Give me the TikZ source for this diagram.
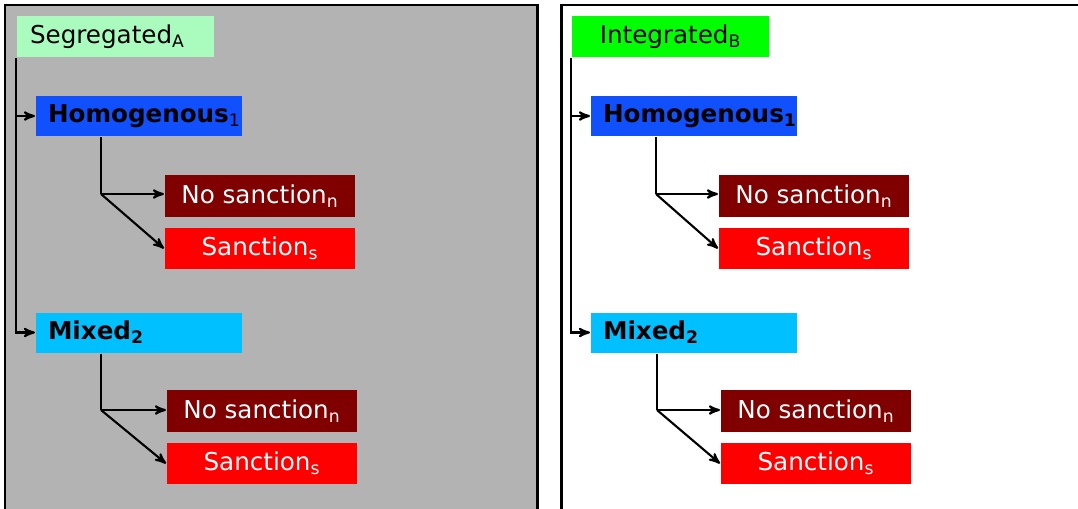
\documentclass[tikz,border=0pt]{standalone}
\usepackage{fontspec}
\setmainfont{DejaVu Sans}
\usetikzlibrary{arrows}
\definecolor{panelgray}{RGB}{179,179,179}
\definecolor{seggreen}{RGB}{170,252,190}
\definecolor{intgreen}{RGB}{0,255,0}
\definecolor{homblue}{RGB}{16,80,255}
\definecolor{mixcyan}{RGB}{0,192,255}
\definecolor{nored}{RGB}{128,0,0}
\definecolor{sanred}{RGB}{255,0,0}

\begin{document}
\begin{tikzpicture}[x=0.02cm,y=-0.02cm,>=stealth',line width=1.2pt,
                tag/.style={inner sep=0pt,font=\fontsize{14}{16}\selectfont},
                group/.style={tag,minimum width=3.94cm,minimum height=0.82cm},
                level/.style={tag,minimum width=4.12cm,minimum height=0.8cm,text width=3.64cm,align=left,font=\fontsize{14}{16}\selectfont\bfseries},
                outcome/.style={tag,minimum width=3.8cm,minimum height=0.83cm,text=white}]
                \useasboundingbox (0,0) rectangle (1078,508);
                \fill[white] (0,0) rectangle (1078,508);
                \draw[line width=1.7pt,fill=panelgray] (5,5) rectangle (537,530);
                \draw[line width=1.7pt] (561,5) rectangle (1100,530);
                \node[group,fill=seggreen,text width=3.42cm,align=left](SegA)at(115.5, 36.5){Segregated\textsubscript{A}};
                \node[level,fill=homblue](Hom1A)at(139, 116){Homogenous\textsubscript{\normalfont 1}};
                \node[outcome,fill=nored](NoHomA)at(260, 196){No sanction\textsubscript{n}};
                \node[outcome,fill=sanred](SanHomA)at(260, 248.5){Sanction\textsubscript{s}};
                \node[level,fill=mixcyan](Mix2A)at(139, 332.5){Mixed\textsubscript{2}};
                \node[outcome,fill=nored](NoMixA)at(262, 411){No sanction\textsubscript{n}};
                \node[outcome,fill=sanred](SanMixA)at(262, 463.5){Sanction\textsubscript{s}};
                \coordinate(ForkHomA)at(101, 194);
                \coordinate(ForkMixA)at(101, 410);
                \draw[->](SegA.south west) |- (Mix2A.west);
                \draw[->](SegA.south west |- Hom1A.west) -- (Hom1A.west);
                \draw(Hom1A.south -| ForkHomA) -- (ForkHomA);
                \draw[->](ForkHomA) -- (NoHomA.west |- ForkHomA);
                \draw[->](ForkHomA) -- (SanHomA.west);
                \draw(Mix2A.south -| ForkMixA) -- (ForkMixA);
                \draw[->](ForkMixA) -- (NoMixA.west |- ForkMixA);
                \draw[->](ForkMixA) -- (SanMixA.west);
                \node[group,fill=intgreen](IntB)at(670.5, 36.5){Integrated\textsubscript{B}};
                \node[level,fill=homblue](Hom1B)at(694, 116){Homogenous\textsubscript{1}};
                \node[outcome,fill=nored](NoHomB)at(814, 196){No sanction\textsubscript{n}};
                \node[outcome,fill=sanred](SanHomB)at(814, 248.5){Sanction\textsubscript{s}};
                \node[level,fill=mixcyan](Mix2B)at(694, 332.5){Mixed\textsubscript{2}};
                \node[outcome,fill=nored](NoMixB)at(816, 411){No sanction\textsubscript{n}};
                \node[outcome,fill=sanred](SanMixB)at(816, 463.5){Sanction\textsubscript{s}};
                \coordinate(ForkHomB)at(656, 194);
                \coordinate(ForkMixB)at(657, 410);
                \draw[->](IntB.south west) |- (Mix2B.west);
                \draw[->](IntB.south west |- Hom1B.west) -- (Hom1B.west);
                \draw(Hom1B.south -| ForkHomB) -- (ForkHomB);
                \draw[->](ForkHomB) -- (NoHomB.west |- ForkHomB);
                \draw[->](ForkHomB) -- (SanHomB.west);
                \draw(Mix2B.south -| ForkMixB) -- (ForkMixB);
                \draw[->](ForkMixB) -- (NoMixB.west |- ForkMixB);
                \draw[->](ForkMixB) -- (SanMixB.west);
\end{tikzpicture}
\end{document}
